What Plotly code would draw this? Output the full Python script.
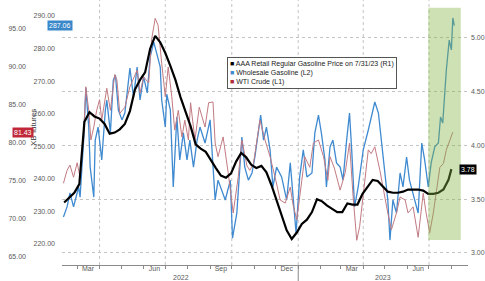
import plotly.graph_objects as go
import pandas as pd

# ---------------- data ----------------
BLACK_DATES = list(pd.date_range("2022-02-11", periods=77, freq="7D").strftime("%Y-%m-%d")) + ["2023-08-01"]
BLACK_VALUES = [3.47, 3.52, 3.56, 3.64, 4.22, 4.31, 4.27, 4.25, 4.20, 4.11,
                4.12, 4.15, 4.20, 4.32, 4.52, 4.61, 4.68, 4.90, 5.02, 4.96,
                4.86, 4.74, 4.61, 4.45, 4.32, 4.18, 4.01, 3.97, 3.94, 3.86,
                3.79, 3.72, 3.70, 3.74, 3.85, 3.93, 3.89, 3.82, 3.79, 3.81,
                3.75, 3.63, 3.49, 3.36, 3.21, 3.13, 3.19, 3.27, 3.31, 3.38,
                3.50, 3.48, 3.44, 3.41, 3.38, 3.38, 3.46, 3.45, 3.45, 3.55,
                3.62, 3.68, 3.67, 3.62, 3.57, 3.56, 3.56, 3.57, 3.59, 3.59,
                3.59, 3.58, 3.55, 3.55, 3.56, 3.59, 3.68, 3.78]

BLUE_DATES = ["2022-02-10", "2022-02-15", "2022-02-19", "2022-02-24", "2022-03-03", "2022-03-05",
              "2022-03-10", "2022-03-13", "2022-03-17", "2022-03-19", "2022-03-24", "2022-03-26",
              "2022-03-30", "2022-04-04", "2022-04-09", "2022-04-11", "2022-04-16", "2022-04-20",
              "2022-04-23", "2022-04-27", "2022-05-02", "2022-05-06", "2022-05-13", "2022-05-18",
              "2022-05-23", "2022-05-27", "2022-06-01", "2022-06-06", "2022-06-10", "2022-06-15",
              "2022-06-19", "2022-06-24", "2022-06-26", "2022-07-01", "2022-07-03", "2022-07-08",
              "2022-07-12", "2022-07-17", "2022-07-21", "2022-07-26", "2022-07-31", "2022-08-04",
              "2022-08-09", "2022-08-14", "2022-08-18", "2022-08-25", "2022-09-01", "2022-09-08",
              "2022-09-12", "2022-09-17", "2022-09-22", "2022-09-29", "2022-10-02", "2022-10-08",
              "2022-10-15", "2022-10-19", "2022-10-24", "2022-10-29", "2022-11-02", "2022-11-10",
              "2022-11-14", "2022-11-18", "2022-11-23", "2022-11-27", "2022-12-02", "2022-12-09",
              "2022-12-16", "2022-12-21", "2022-12-25", "2022-12-29", "2023-01-03", "2023-01-08",
              "2023-01-13", "2023-01-20", "2023-01-24", "2023-01-29", "2023-02-02", "2023-02-07",
              "2023-02-09", "2023-02-14", "2023-02-18", "2023-02-23", "2023-02-28", "2023-03-04",
              "2023-03-09", "2023-03-13", "2023-03-16", "2023-03-20", "2023-03-25", "2023-04-01",
              "2023-04-08", "2023-04-12", "2023-04-17", "2023-04-22", "2023-04-26", "2023-05-01",
              "2023-05-05", "2023-05-08", "2023-05-12", "2023-05-17", "2023-05-22", "2023-05-26",
              "2023-05-31", "2023-06-04", "2023-06-09", "2023-06-16", "2023-06-21", "2023-06-25",
              "2023-06-30", "2023-07-04", "2023-07-09", "2023-07-14", "2023-07-17", "2023-07-20",
              "2023-07-25", "2023-07-29", "2023-08-01", "2023-08-03", "2023-08-05"]
BLUE_VALUES = [228.3, 231.4, 235.7, 231.4, 237.5, 234.4,
               251.9, 267.9, 255.9, 243.6, 234.4, 251.9,
               255.9, 245.8, 261.1, 264.2, 254.1, 270.3,
               271.9, 261.1, 258.1, 260.2, 274.0, 265.1,
               274.3, 264.2, 271.3, 266.4, 277.4, 282.0,
               278.6, 274.3, 264.2, 255.9, 266.0, 261.1,
               237.5, 259.0, 245.8, 254.1, 245.8, 251.9,
               243.6, 251.9, 255.9, 251.0, 258.1, 233.5,
               239.6, 236.6, 233.5, 239.6, 221.8, 229.5,
               252.8, 243.6, 239.6, 241.8, 246.7, 259.6,
               251.9, 255.9, 248.9, 237.5, 243.6, 240.6,
               233.5, 244.9, 233.5, 223.4, 240.6, 248.9,
               240.6, 241.8, 254.1, 259.6, 254.1, 245.8,
               237.5, 249.8, 251.9, 244.9, 243.6, 239.6,
               251.9, 260.2, 248.9, 231.4, 237.5, 248.9,
               255.0, 259.0, 263.6, 260.2, 251.9, 243.6,
               233.5, 221.2, 233.5, 229.5, 241.8, 237.5,
               246.7, 239.6, 235.7, 229.5, 251.0, 245.8,
               237.5, 244.9, 249.8, 251.0, 259.0, 257.1,
               273.4, 282.6, 279.6, 289.4, 287.06]

RED_DATES = ["2022-02-10", "2022-02-15", "2022-02-19", "2022-02-24", "2022-03-01", "2022-03-05",
             "2022-03-10", "2022-03-13", "2022-03-17", "2022-03-20", "2022-03-24", "2022-03-28",
             "2022-04-01", "2022-04-04", "2022-04-11", "2022-04-16", "2022-04-22", "2022-04-25",
             "2022-04-29", "2022-05-06", "2022-05-13", "2022-05-23", "2022-05-27", "2022-06-01",
             "2022-06-08", "2022-06-12", "2022-06-17", "2022-06-21", "2022-06-26", "2022-07-01",
             "2022-07-05", "2022-07-10", "2022-07-14", "2022-07-19", "2022-07-24", "2022-07-28",
             "2022-08-02", "2022-08-05", "2022-08-11", "2022-08-17", "2022-08-25", "2022-08-30",
             "2022-09-05", "2022-09-08", "2022-09-12", "2022-09-19", "2022-09-26", "2022-10-03",
             "2022-10-10", "2022-10-15", "2022-10-22", "2022-10-26", "2022-10-31", "2022-11-09",
             "2022-11-16", "2022-11-23", "2022-11-30", "2022-12-07", "2022-12-14", "2022-12-21",
             "2022-12-25", "2022-12-30", "2023-01-06", "2023-01-10", "2023-01-17", "2023-01-22",
             "2023-01-29", "2023-02-05", "2023-02-11", "2023-02-14", "2023-02-20", "2023-02-28",
             "2023-03-07", "2023-03-13", "2023-03-18", "2023-03-23", "2023-03-27", "2023-04-01",
             "2023-04-08", "2023-04-12", "2023-04-17", "2023-04-24", "2023-04-28", "2023-05-05",
             "2023-05-10", "2023-05-17", "2023-05-22", "2023-05-29", "2023-06-02", "2023-06-09",
             "2023-06-16", "2023-06-23", "2023-06-27", "2023-07-02", "2023-07-07", "2023-07-11",
             "2023-07-16", "2023-07-21", "2023-07-25", "2023-07-30", "2023-08-03"]
RED_VALUES = [74.7, 76.4, 77.1, 75.5, 77.4, 75.5,
              81.3, 87.4, 84.3, 80.4, 82.1, 84.3,
              85.7, 83.0, 87.2, 84.3, 89.0, 88.3,
              83.9, 84.7, 87.4, 89.6, 86.6, 88.7,
              87.9, 93.6, 96.4, 95.5, 90.5, 86.1,
              90.0, 86.1, 81.7, 84.3, 80.8, 83.0,
              80.4, 85.3, 80.4, 84.7, 82.1, 85.3,
              85.4, 80.0, 78.2, 80.8, 76.1, 70.8,
              75.6, 80.4, 77.0, 76.4, 77.3, 83.0,
              80.4, 78.2, 75.5, 72.5, 72.1, 74.2,
              71.8, 69.9, 75.1, 78.2, 76.8, 80.0,
              80.4, 78.2, 75.1, 78.2, 76.7, 73.8,
              76.1, 80.0, 72.9, 67.2, 69.0, 72.9,
              79.1, 78.6, 79.5, 76.4, 74.2, 70.8,
              68.6, 70.8, 72.9, 72.5, 70.8, 71.6,
              67.6, 73.4, 70.8, 68.2, 70.8, 73.4,
              76.8, 77.3, 79.1, 80.4, 81.43]

MONTH_TICKS = ["2022-03-16", "2022-06-16", "2022-09-16", "2022-12-16", "2023-03-16", "2023-06-16"]
MONTH_LABELS = ["Mar", "Jun", "Sep", "Dec", "Mar", "Jun"]
QUARTER_GRID = ["2022-04-01", "2022-07-01", "2022-10-01", "2023-01-01", "2023-04-01", "2023-07-01"]
YEAR_LABELS = ["2022", "2023"]
L2_TICKS = [220, 230, 240, 250, 260, 270, 280, 290]
L1_TICKS = [65, 70, 75, 80, 85, 90, 95]
R1_TICKS = [3.0, 3.5, 4.0, 4.5, 5.0]
HIGHLIGHT = ("2023-06-30", "2023-08-14")

BLUE = "#3f8ad0"
RED = "#c27a82"
GRID = "#c4c4c4"
FONT = "Liberation Sans"
W, H = 485, 281

fig = go.Figure()
fig.add_trace(go.Scatter(x=RED_DATES, y=RED_VALUES, yaxis="y2", mode="lines",
                         line=dict(color=RED, width=1), showlegend=False))
fig.add_trace(go.Scatter(x=BLUE_DATES, y=BLUE_VALUES, yaxis="y", mode="lines",
                         line=dict(color=BLUE, width=1.3), showlegend=False))
fig.add_trace(go.Scatter(x=BLACK_DATES, y=BLACK_VALUES, yaxis="y3", mode="lines",
                         line=dict(color="#000000", width=2.2), showlegend=False))

tickfont = dict(family=FONT, size=7, color="#5a5a5a")
ydom = [16 / H, 277 / H]

fig.update_layout(
    width=W, height=H, margin=dict(l=0, r=0, t=0, b=0), autosize=False,
    paper_bgcolor="white", plot_bgcolor="white", showlegend=False,
    font=dict(family=FONT),
    xaxis=dict(domain=[62 / W, 468 / W], range=["2022-02-08", "2023-08-24"],
               tickmode="array", tickvals=MONTH_TICKS, ticktext=MONTH_LABELS,
               ticks="", showgrid=False, zeroline=False, showline=True,
               linecolor="#8a8a8a", linewidth=1, tickfont=tickfont, ticklabelstandoff=-3,
               minor=dict(tickmode="linear", tick0="2022-01-01", dtick="M1",
                          ticks="outside", ticklen=3, tickcolor="#8a8a8a", showgrid=False)),
    yaxis=dict(domain=ydom, range=[213.55, 293.68], tickmode="array", tickvals=L2_TICKS,
               tickformat=".2f", showgrid=False, zeroline=False, showline=False, ticks="",
               ticklabelstandoff=6, tickfont=tickfont),
    yaxis2=dict(overlaying="y", anchor="free", position=28 / W, side="left",
                range=[63.95, 98.29], tickmode="array", tickvals=L1_TICKS, tickformat=".2f",
                showgrid=False, zeroline=False, showline=False, ticks="",
                ticklabelstandoff=2, tickfont=tickfont),
    yaxis3=dict(overlaying="y", anchor="x", side="right", range=[2.888, 5.316],
                tickmode="array", tickvals=R1_TICKS, tickformat=".2f",
                showgrid=True, gridcolor=GRID, griddash="dot", gridwidth=1,
                zeroline=False, showline=False, ticks="", ticklabelstandoff=2,
                tickfont=tickfont),
)

shapes = []
for q in QUARTER_GRID:
    shapes.append(dict(type="line", xref="x", yref="paper", x0=q, x1=q, y0=ydom[0], y1=1,
                       line=dict(color=GRID, width=1, dash="dot"), layer="below"))
shapes.append(dict(type="line", xref="x", yref="paper", x0="2023-01-01", x1="2023-01-01",
                   y0=0, y1=ydom[0], line=dict(color="#8a8a8a", width=1)))
shapes.append(dict(type="rect", xref="x", yref="y3", x0=HIGHLIGHT[0], x1=HIGHLIGHT[1],
                   y0=3.12, y1=5.28, fillcolor="rgba(130,180,67,0.40)",
                   line=dict(width=0), layer="above"))
fig.update_layout(shapes=shapes)

ann = []
for label, px in zip(YEAR_LABELS, [181, 383]):
    ann.append(dict(x=px / W, y=1 - 277 / H, xref="paper", yref="paper", text=label,
                    xanchor="center", yanchor="middle", showarrow=False,
                    font=dict(family=FONT, size=7, color="#5a5a5a")))
ann.append(dict(x=33 / W, y=1 - 128 / H, xref="paper", yref="paper", text="XB futures",
                textangle=-90, xanchor="center", yanchor="middle", showarrow=False,
                font=dict(family=FONT, size=8, color="#444444")))
legend_text = (f"<span style='color:#000000'>■</span> AAA Retail Regular Gasoline Price on 7/31/23 (R1)<br>"
               f"<span style='color:{BLUE}'>■</span> Wholesale Gasoline (L2)<br>"
               f"<span style='color:#b02a37'>■</span> WTI Crude (L1)")
ann.append(dict(x=227 / W, y=1 - 57 / H, xref="paper", yref="paper", xanchor="left",
                yanchor="top", text=legend_text, align="left", showarrow=False,
                bgcolor="white", bordercolor="#555555", borderwidth=1, borderpad=2,
                font=dict(family=FONT, size=7, color="#222222")))
ann.append(dict(x=47 / W, y=BLUE_VALUES[-1], xref="paper", yref="y",
                text=f"{BLUE_VALUES[-1]:.2f}", showarrow=False, bgcolor="#3a87c9",
                yanchor="middle", borderpad=1, font=dict(family=FONT, size=7, color="white")))
ann.append(dict(x=12 / W, y=RED_VALUES[-1], xref="paper", yref="y2",
                text=f"{RED_VALUES[-1]:.2f}", showarrow=False, bgcolor="#c0283a",
                yanchor="middle", borderpad=1, font=dict(family=FONT, size=7, color="white")))
ann.append(dict(x=477 / W, y=BLACK_VALUES[-1], xref="paper", yref="y3",
                text=f"{BLACK_VALUES[-1]:.2f}", showarrow=False, bgcolor="#000000",
                yanchor="middle", borderpad=1, font=dict(family=FONT, size=7, color="white")))
fig.update_layout(annotations=ann)

fig.write_html("out.html")
